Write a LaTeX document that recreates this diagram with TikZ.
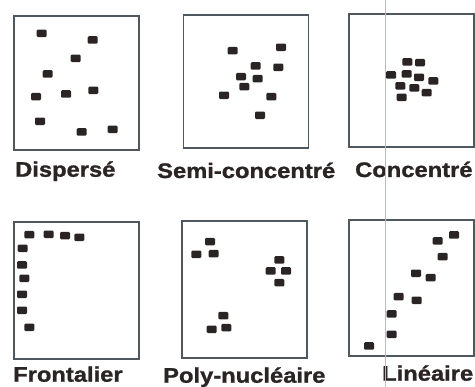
\documentclass[tikz,border=0pt]{standalone}
\usepackage{fontspec}
\setmainfont[FakeStretch=1.13, BoldFeatures={FakeBold=1.2}]{Liberation Sans}
\definecolor{houseink}{HTML}{2B2424}
\definecolor{frameink}{HTML}{4E585E}
\definecolor{scanline}{RGB}{240,172,125}
\tikzset{
  plotbox/.style={draw=frameink, line width=1.2pt, minimum width=125pt, inner sep=0pt},
  house/.style={fill=houseink, rounded corners=1.2pt, minimum width=10pt, minimum height=7.5pt, inner sep=0pt},
  typelabel/.style={anchor=base west, inner sep=0pt, text=houseink, font=\fontsize{21}{23}\selectfont\bfseries},
}
\begin{document}
\begin{tikzpicture}[x=1pt, y=-1pt]
    \useasboundingbox (0,0) rectangle (475,387);

    % Boxes
    \node[plotbox, minimum height=134pt] (disperse) at (76.5,83) {};
    \node[plotbox, minimum height=133pt] (semi) at (246,81.5) {};
    \node[plotbox, minimum height=133pt] (concentre) at (411.5,80.5) {};
    \node[plotbox, minimum height=137pt] (frontalier) at (76.5,290.5) {};
    \node[plotbox, minimum height=137pt] (poly) at (244.5,289.5) {};
    \node[plotbox, minimum height=136pt] (lineaire) at (411.5,288) {};

    % Houses
    \foreach \p [count=\i] in {(41.7,33.3),(92.7,40),(75.7,58.3),(47.7,74),(36,96.7),
        (66,94),(93.3,90.3),(40,121.3),(81.7,132),(112.7,129.3)}
      \node[house] (d\i) at \p {};
    \foreach \p [count=\i] in {(232.7,50.7),(281,47.3),(255.7,66),(278.3,67.3),(241,76.7),
        (257.7,78.7),(244.3,86.7),(224,95.3),(271.3,96.7),(260,115.3)}
      \node[house] (s\i) at \p {};
    \foreach \p [count=\i] in {(407.3,62),(420,62.7),(391,75),(406.7,74),(419,77.3),
        (433.3,81),(400.3,86),(414.3,88),(426.7,92.7),(401.7,97.3)}
      \node[house] (c\i) at \p {};
    \foreach \p [count=\i] in {(29.3,234.7),(48.7,234.3),(65,235.7),(79.3,237.3),(22.7,248.3),
        (22,265),(24.3,278.3),(22,294.3),(22,310.3),(29.3,327.3)}
      \node[house] (f\i) at \p {};
    \foreach \p [count=\i] in {(210,241.7),(196.3,254.3),(213.7,253.7),(279.3,260),(270.7,271),
        (286,271),(279.3,282.7),(223.3,315.7),(211.7,329.3),(226.3,327.7)}
      \node[house] (p\i) at \p {};
    \foreach \p [count=\i] in {(454,235),(437.7,241),(442.7,256.7),(416,273.3),(430.7,277.7),
        (398.7,296.7),(416.7,300.3),(391.7,314),(391.7,334.3),(369,346)}
      \node[house] (l\i) at \p {};

    % Labels
    \node[typelabel] (disperse-lbl) at (15,176.7) {Dispersé};
    \node[typelabel] (semi-lbl) at (157,178) {Semi-concentré};
    \node[typelabel] (concentre-lbl) at (355,177) {Concentré};
    \node[typelabel] (frontalier-lbl) at (13,381.7) {Frontalier};
    \node[typelabel] (poly-lbl) at (163,382.7) {Poly-nucléaire};
    \node[typelabel] (lineaire-lbl) at (382,380.7) {Linéaire};

    % scan line
    \draw[scanline, line width=1.2pt] (385.7,0) -- (385.7,387);
\end{tikzpicture}
\end{document}
